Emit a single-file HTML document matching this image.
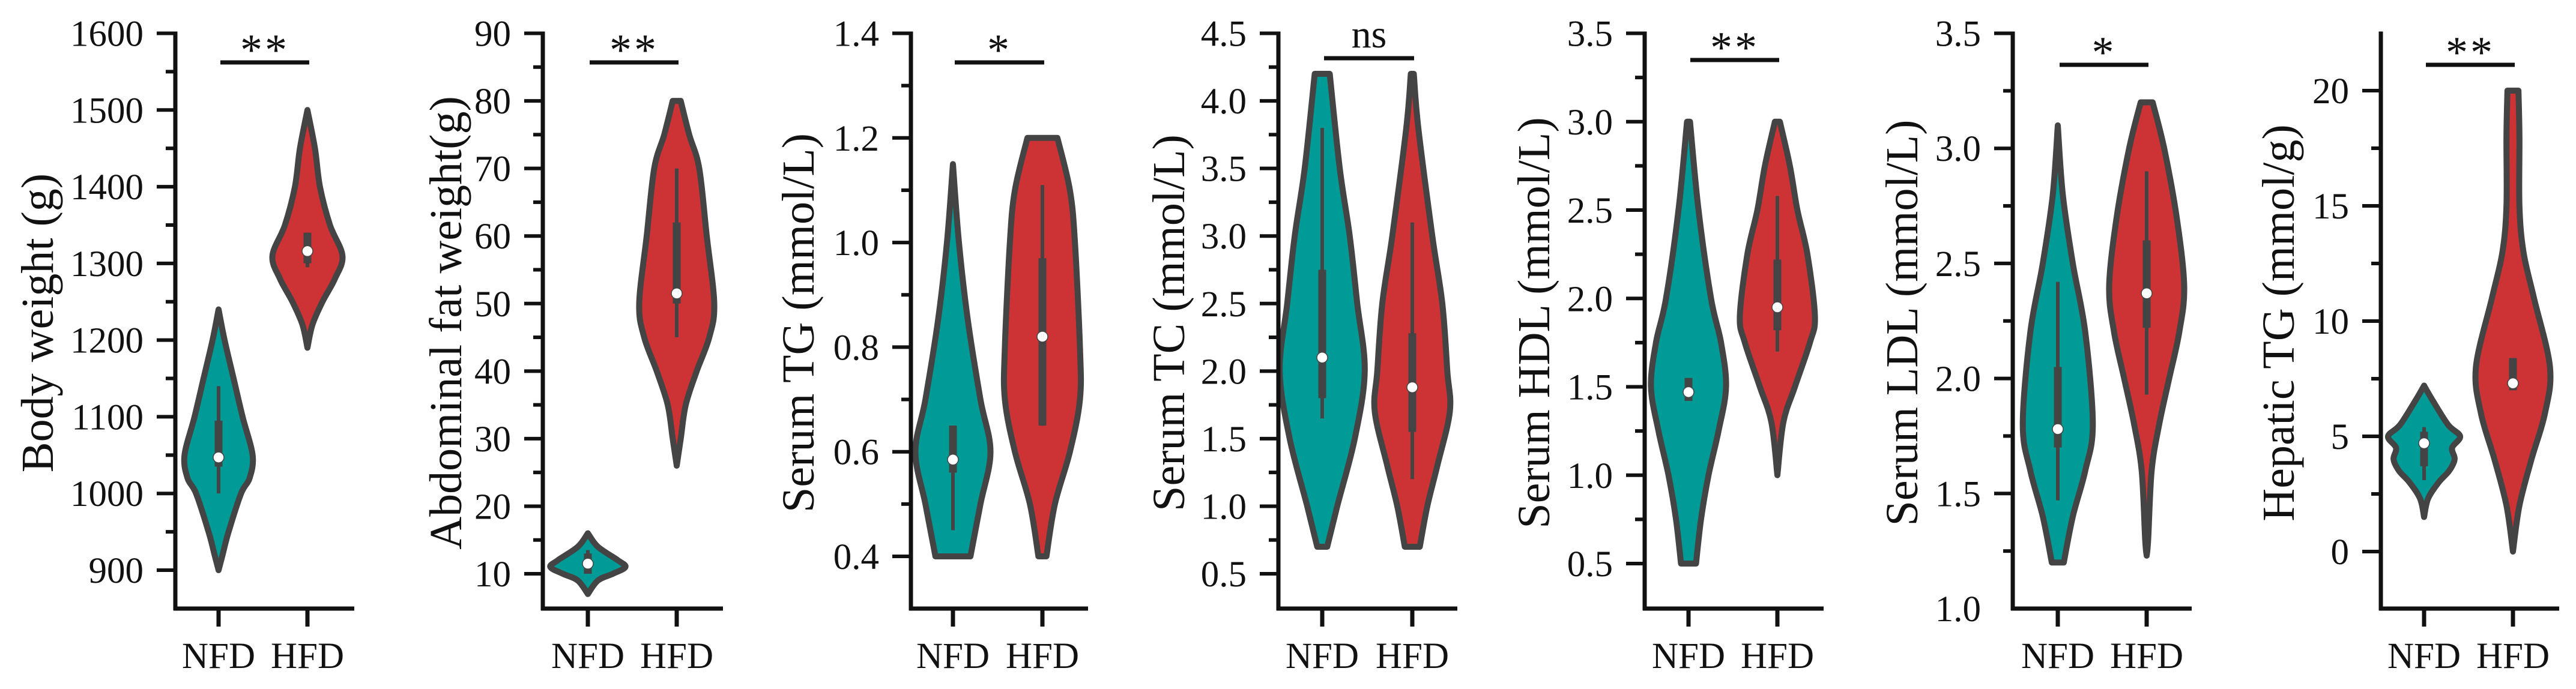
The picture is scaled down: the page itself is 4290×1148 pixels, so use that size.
<!DOCTYPE html>
<html><head><meta charset="utf-8"><style>
html,body{margin:0;padding:0;background:#fff}
svg{display:block}
text{font-family:"Liberation Serif",serif;fill:#111}
</style></head><body>
<svg id="chart" width="4290" height="1148" viewBox="0 0 4290 1148" xmlns="http://www.w3.org/2000/svg"></svg>
<script>
// ---- data ----
const groups = ["NFD", "HFD"];
const titles = ["Body weight (g)", "Abdominal fat weight(g)", "Serum TG (mmol/L)", "Serum TC (mmol/L)", "Serum HDL (mmol/L)", "Serum LDL (mmol/L)", "Hepatic TG (mmol/g)"];
const significance = ["**", "**", "*", "ns", "**", "*", "**"];
const tickValues = [
  [900,1000,1100,1200,1300,1400,1500,1600],
  [10,20,30,40,50,60,70,80,90],
  [0.4,0.6,0.8,1.0,1.2,1.4],
  [0.5,1.0,1.5,2.0,2.5,3.0,3.5,4.0,4.5],
  [0.5,1.0,1.5,2.0,2.5,3.0,3.5],
  [1.0,1.5,2.0,2.5,3.0,3.5],
  [0,5,10,15,20]
];
const tickDecimals = [0,0,1,1,1,1,0];
const minorSteps = [50,5,0.1,0.25,0.25,0.25,2.5];
const axisRefValues = [[1600,900],[90,10],[1.4,0.4],[4.5,0.5],[3.5,0.5],[3.5,1.0],[20,0]];
const nfdValues = [
  [1240,1200,1150,1100,1050,1020,1000,950,920,900],
  [16,14,12,11,10,9,7],
  [1.15,1.0,0.85,0.7,0.6,0.5,0.4],
  [4.2,3.5,3.0,2.5,2.0,1.5,1.0,0.7],
  [3.0,2.5,2.0,1.75,1.5,1.25,1.0,0.75,0.5],
  [3.1,2.8,2.5,2.2,1.8,1.6,1.4,1.2],
  [7.2,6.6,5.5,5.0,4.5,4.0,3.5,3.0,2.3,1.5]
];
const nfdDensity = [
  [0,12,30,48,68,62,45,20,8,0],
  [0,20,60,75,50,20,0],
  [0,12,30,55,75,55,35],
  [15,35,55,70,85,65,30,10],
  [3,20,45,65,75,60,40,25,15],
  [0,10,30,55,70,55,30,12],
  [0,16,48,72,56,61,50,29,8,0]
];
const hfdValues = [
  [1500,1450,1400,1350,1310,1280,1250,1220,1190],
  [80,75,70,60,50,45,40,35,30,26],
  [1.2,1.1,1.0,0.8,0.7,0.6,0.5,0.4],
  [4.2,3.8,3.0,2.5,2.0,1.7,1.3,1.0,0.7],
  [3.0,2.75,2.5,2.25,1.9,1.75,1.5,1.3,1.0],
  [3.2,3.0,2.7,2.4,2.2,2.0,1.8,1.6,1.3,1.23],
  [20,18,15,13,11,8,6,4,2,0]
];
const hfdDensity = [
  [0,15,25,45,70,55,30,10,0],
  [8,25,45,60,75,65,40,18,8,0],
  [30,55,65,75,75,55,25,8],
  [3,12,40,60,70,75,50,30,15],
  [5,25,40,60,75,65,35,12,0],
  [12,35,60,75,65,45,25,10,3,0],
  [11,13,13,21,42,74,64,37,13,0]
];
const nfdStats = [[1000,1035,1047,1095,1140],[10,10,11.5,13,13.5],[0.45,0.56,0.585,0.65,0.65],[1.65,1.8,2.1,2.75,3.8],[1.42,1.42,1.47,1.55,1.55],[1.47,1.7,1.78,2.05,2.42],[3.1,3.7,4.7,5.2,5.4]];
const hfdStats = [[1295,1300,1316,1340,1340],[45,50,51.5,62,70],[0.65,0.65,0.82,0.97,1.11],[1.2,1.55,1.88,2.28,3.1],[1.7,1.82,1.95,2.22,2.58],[1.93,2.22,2.37,2.6,2.9],[7.0,7.0,7.3,8.4,8.4]];

// ---- layout ----
const axisX = [292,904,1517,2129,2739,3352,3965];
const axisRight = [590,1204,1812,2427,3037,3650,4262];
const groupX = [[364,512],[979,1127],[1587,1736],[2202,2352],[2812,2960],[3427,3575],[4037,4185]];
const refY = [[55.5,950],[55.5,956],[55.5,927],[55.5,956],[55.5,939],[55.5,1014],[151,919]];
const sigY = [104,104,104,97,100,108,108];
const titleOffset = [230,162,188,183,185,185,171];
const axisTop = 55.5, axisBottom = 1014;
const densityScale = 1/1.2;
const TEAL = "#019b97", RED = "#cd3235", EDGE = "#444444";

const svg = document.getElementById("chart");
const NS = "http://www.w3.org/2000/svg";
function mk(tag, attrs, parent){const e=document.createElementNS(NS,tag);for(const k in attrs)e.setAttribute(k,attrs[k]);(parent||svg).appendChild(e);return e;}

function smoothPath(pts){
  let d = "M"+pts[0][0]+","+pts[0][1];
  for(let i=0;i<pts.length-1;i++){
    const p0=pts[Math.max(0,i-1)],p1=pts[i],p2=pts[i+1],p3=pts[Math.min(pts.length-1,i+2)];
    const c1=[p1[0]+(p2[0]-p0[0])/6,p1[1]+(p2[1]-p0[1])/6];
    const c2=[p2[0]-(p3[0]-p1[0])/6,p2[1]-(p3[1]-p1[1])/6];
    d+=" C"+c1[0].toFixed(1)+","+c1[1].toFixed(1)+" "+c2[0].toFixed(1)+","+c2[1].toFixed(1)+" "+p2[0].toFixed(1)+","+p2[1].toFixed(1);
  }
  return d;
}

const FONT = '"Liberation Serif", serif';
for(let p=0;p<7;p++){
  const g = mk("g",{});
  
  
  const [v0,v1]=axisRefValues[p],[y0,y1]=refY[p];
  const yS = v => y0 + (v - v0)*(y1-y0)/(v1-v0);
  const vTop = v0 + (axisTop-y0)*(v1-v0)/(y1-y0);
  const vBot = v0 + (axisBottom-y0)*(v1-v0)/(y1-y0);
  const ax = axisX[p];

  const sets=[[nfdValues[p],nfdDensity[p],nfdStats[p],TEAL,0],[hfdValues[p],hfdDensity[p],hfdStats[p],RED,1]];
  for(const [vals,dens,st,col,gi] of sets){
    const cx=groupX[p][gi];
    const right=vals.map((v,i)=>[cx+dens[i]*densityScale,yS(v)]);
    const left=vals.map((v,i)=>[cx-dens[i]*densityScale,yS(v)]).reverse();
    let d=smoothPath(right);
    d+=" L"+left[0][0].toFixed(1)+","+left[0][1].toFixed(1)+" "+smoothPath(left).slice(1)+" Z";
    const vp=mk("path",{d:d,fill:col,stroke:EDGE,"stroke-width":10,"stroke-linejoin":"round"},g);
    
    
    const wk=mk("line",{x1:cx,x2:cx,y1:yS(st[0]),y2:yS(st[4]),stroke:EDGE,"stroke-width":6},g);
    
    
    const bx=mk("line",{x1:cx,x2:cx,y1:yS(st[1]),y2:yS(st[3]),stroke:EDGE,"stroke-width":13},g);
    
    
    const md=mk("circle",{cx:cx,cy:yS(st[2]),r:9,fill:"#fff",stroke:EDGE,"stroke-width":1.5},g);
    
    
  }

  const ya=mk("line",{x1:ax,x2:ax,y1:axisTop-3,y2:axisBottom+3,stroke:"#111","stroke-width":7},g);
  
  
  const xa=mk("line",{x1:ax-3,x2:axisRight[p],y1:axisBottom,y2:axisBottom,stroke:"#111","stroke-width":7},g);
  
  
  const step=minorSteps[p];
  const startK=Math.ceil((Math.min(vBot,vTop)-1e-9)/step);
  for(let k=startK;k*step<=Math.max(vTop,vBot)+1e-9;k++){
    const v=k*step,y=yS(v);
    if(y<axisTop-1||y>axisBottom-4)continue;
    const isMajor=tickValues[p].some(t=>Math.abs(t-v)<1e-6);
    const tk=mk("line",{x1:ax-(isMajor?31:16),x2:ax,y1:y,y2:y,stroke:"#111","stroke-width":6},g);
    
    
  }
  for(const t of tickValues[p]){
    const y=yS(t);
    const tl=mk("text",{x:ax-53,y:y+21,"text-anchor":"end","font-size":61,"font-family":FONT},g);
    tl.textContent=t.toFixed(tickDecimals[p]);
    
    
  }
  groups.forEach((gn,gi)=>{
    const cx=groupX[p][gi];
    const xt=mk("line",{x1:cx,x2:cx,y1:axisBottom,y2:1044,stroke:"#111","stroke-width":7},g);
    
    
    const xl=mk("text",{x:cx,y:1113,"text-anchor":"middle","font-size":61,"font-family":FONT},g);
    xl.textContent=gn;
    
    
  });
  const tx=ax-titleOffset[p];
  const yt=mk("text",{x:0,y:0,"text-anchor":"middle","font-size":76,"font-family":FONT,transform:"translate("+(tx+26)+",538) rotate(-90)"},g);
  yt.textContent=titles[p];
  
  
  const sb=mk("line",{x1:groupX[p][0]+3,x2:groupX[p][1]+3,y1:sigY[p],y2:sigY[p],stroke:"#111","stroke-width":7},g);
  
  
  const isNs=significance[p]==="ns";
  const st=mk("text",{x:(groupX[p][0]+groupX[p][1])/2+3,y:isNs?sigY[p]-18:sigY[p]+4,"text-anchor":"middle","font-size":isNs?66:74,"font-family":FONT,"letter-spacing":isNs?0:4},g);
  st.textContent=significance[p];
  
  
}
</script>
</body></html>
